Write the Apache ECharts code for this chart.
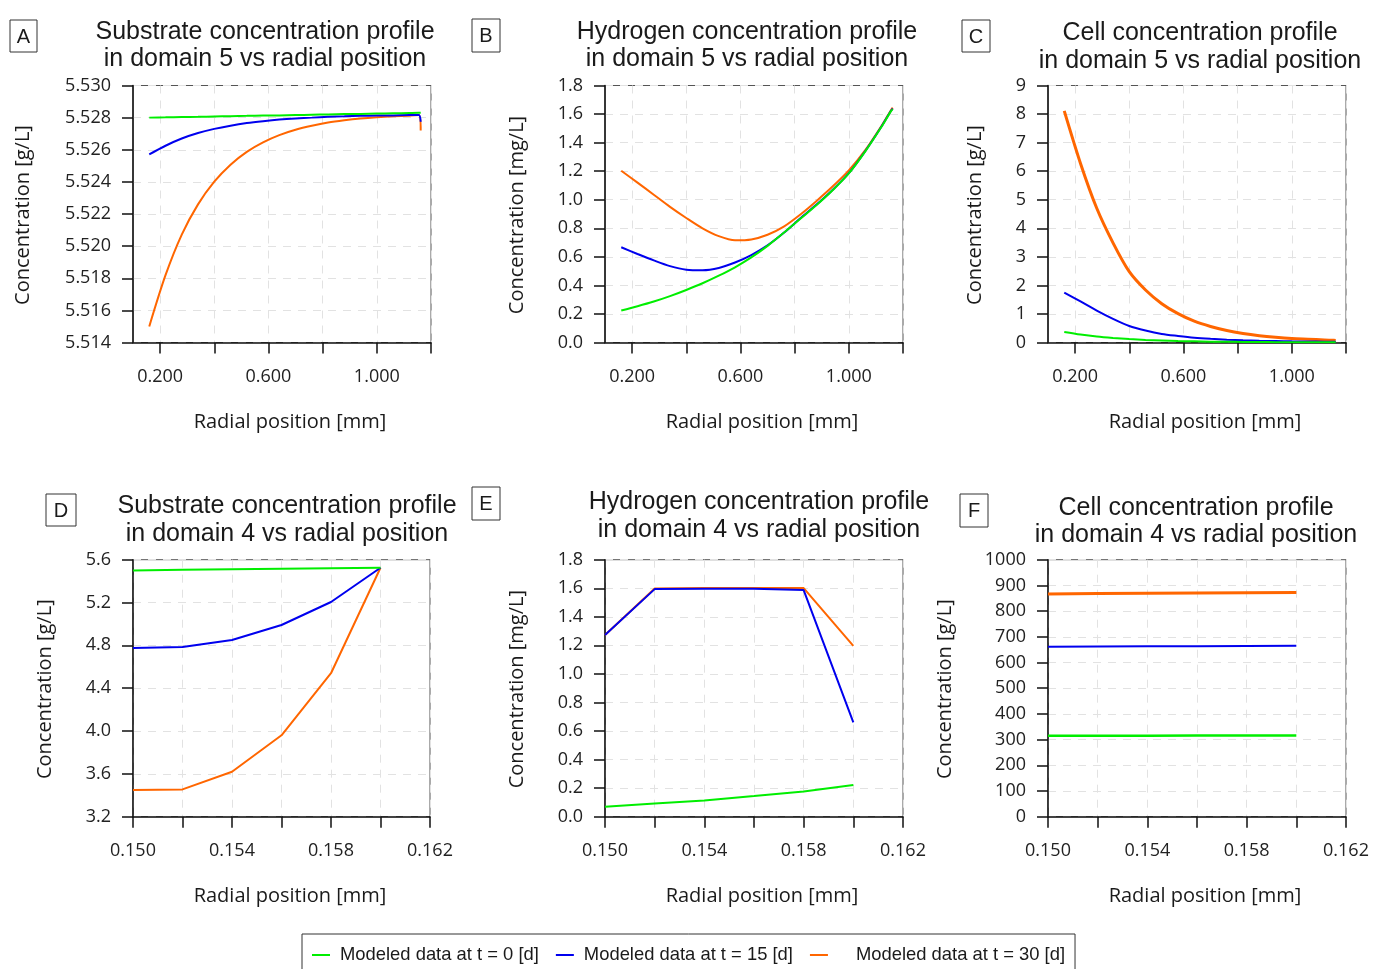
<!DOCTYPE html>
<html>
<head>
<meta charset="utf-8">
<title>Concentration profiles</title>
<script src="https://cdn.jsdelivr.net/npm/echarts@6/dist/echarts.min.js"></script>
<style>
  html, body { margin: 0; padding: 0; background: #fff; }
  #chart { width: 1373px; height: 969px; }
</style>
</head>
<body>
<div id="chart"></div>
<script>
  // radial positions [mm]
  const xDomain5 = [0.16, 0.22, 0.28, 0.34, 0.40, 0.46, 0.52, 0.58, 0.64, 0.70, 0.76, 0.82, 0.88, 0.94, 1.00, 1.06, 1.12, 1.155, 1.162]
  const xDomain4 = [0.150, 0.152, 0.154, 0.156, 0.158, 0.160]

  // axis ticks / labels
  const xTicks5 = [0.2, 0.4, 0.6, 0.8, 1.0, 1.2]
  const xLabels5 = [0.2, 0.6, 1.0]
  const xTicks4 = [0.150, 0.152, 0.154, 0.156, 0.158, 0.160, 0.162]
  const xLabels4 = [0.150, 0.154, 0.158, 0.162]

  const seriesNames = ['Modeled data at t = 0 [d]', 'Modeled data at t = 15 [d]', 'Modeled data at t = 30 [d]']

  // A - substrate, domain 5 [g/L]
  const subD5T0 = [5.52800, 5.52802, 5.52804, 5.52805, 5.52807, 5.52809, 5.52811, 5.52813, 5.52814, 5.52816,
    5.52818, 5.52820, 5.52822, 5.52823, 5.52825, 5.52827, 5.52829, 5.52830, 5.52830]
  const subD5T15 = [5.52571, 5.52625, 5.52670, 5.52704, 5.52730, 5.52750, 5.52766, 5.52778, 5.52788, 5.52795,
    5.52800, 5.52805, 5.52808, 5.52811, 5.52813, 5.52814, 5.52816, 5.52816, 5.52774]
  const subD5T30 = [5.51500, 5.51819, 5.52072, 5.52260, 5.52401, 5.52507, 5.52587, 5.52646, 5.52691, 5.52724,
    5.52749, 5.52769, 5.52783, 5.52794, 5.52802, 5.52808, 5.52812, 5.52816, 5.52720]
  // B - hydrogen, domain 5 [mg/L]
  const h2D5T0 = [0.224, 0.254, 0.287, 0.325, 0.368, 0.415, 0.468, 0.527, 0.596, 0.677,
    0.768, 0.865, 0.961, 1.066, 1.184, 1.337, 1.509, 1.619, 1.635]
  const h2D5T15 = [0.667, 0.620, 0.575, 0.535, 0.510, 0.506, 0.522, 0.560, 0.612, 0.680,
    0.768, 0.868, 0.964, 1.068, 1.186, 1.339, 1.511, 1.621, 1.638]
  const h2D5T30 = [1.203, 1.120, 1.035, 0.950, 0.872, 0.800, 0.745, 0.716, 0.722, 0.755,
    0.812, 0.895, 0.990, 1.092, 1.205, 1.345, 1.515, 1.625, 1.645]
  // C - cells, domain 5 [g/L]
  const cellD5T0 = [0.37, 0.28, 0.21, 0.16, 0.12, 0.09, 0.07, 0.05, 0.04, 0.03,
    0.025, 0.02, 0.015, 0.012, 0.01, 0.01, 0.01, 0.01, 0.01]
  const cellD5T15 = [1.75, 1.44, 1.12, 0.83, 0.58, 0.42, 0.30, 0.23, 0.17, 0.13,
    0.10, 0.075, 0.06, 0.05, 0.04, 0.035, 0.03, 0.03, 0.03]
  const cellD5T30 = [8.11, 6.27, 4.70, 3.49, 2.48, 1.84, 1.36, 1.01, 0.745, 0.56,
    0.42, 0.317, 0.24, 0.183, 0.14, 0.115, 0.09, 0.075, 0.07]
  // D - substrate, domain 4 [g/L]
  const subD4T0 = [5.500, 5.505, 5.510, 5.515, 5.520, 5.525]
  const subD4T15 = [4.775, 4.785, 4.85, 4.99, 5.205, 5.525]
  const subD4T30 = [3.45, 3.455, 3.62, 3.96, 4.54, 5.525]
  // E - hydrogen, domain 4 [mg/L]
  const h2D4T0 = [0.070, 0.093, 0.114, 0.145, 0.177, 0.222]
  const h2D4T15 = [1.272, 1.594, 1.596, 1.596, 1.587, 0.660]
  const h2D4T30 = [1.272, 1.599, 1.601, 1.601, 1.601, 1.197]
  // F - cells, domain 4 [g/L]
  const cellD4T0 = [315, 315, 315, 316, 316, 316]
  const cellD4T15 = [661, 662, 663, 663, 664, 665]
  const cellD4T30 = [867, 868, 869, 870, 871, 872]

  const colors = ['#00ee00', '#0000ee', '#ff6600']
  const font = 'Open Sans'
  const titleFont = 'Liberation Sans'

  // panel layout
  const panels = [
    { letter: 'A', title: ['Substrate concentration profile', 'in domain 5 vs radial position'], yName: 'Concentration [g/L]',
      grid: { left: 133, top: 85.5, width: 298, height: 257 }, box: [10, 20, 27, 32], titleX: 265, titleY: [32, 59], yNameX: 23,
      x: xDomain5, ys: [subD5T0, subD5T15, subD5T30], yMin: 5.514, yMax: 5.530, yStep: 0.002, digits: 3, smooth: true, widths: [2, 2, 2] },
    { letter: 'B', title: ['Hydrogen concentration profile', 'in domain 5 vs radial position'], yName: 'Concentration [mg/L]',
      grid: { left: 605, top: 85.5, width: 298, height: 257 }, box: [472, 19, 28, 33], titleX: 747, titleY: [32, 59], yNameX: 517,
      x: xDomain5, ys: [h2D5T0, h2D5T15, h2D5T30], yMin: 0, yMax: 1.8, yStep: 0.2, digits: 1, smooth: true, widths: [2, 2, 2] },
    { letter: 'C', title: ['Cell concentration profile', 'in domain 5 vs radial position'], yName: 'Concentration [g/L]',
      grid: { left: 1048, top: 85.5, width: 298, height: 257 }, box: [962, 20, 28, 32], titleX: 1200, titleY: [33, 61], yNameX: 975,
      x: xDomain5, ys: [cellD5T0, cellD5T15, cellD5T30], yMin: 0, yMax: 9, yStep: 1, digits: 0, smooth: true, widths: [2, 2, 3] },
    { letter: 'D', title: ['Substrate concentration profile', 'in domain 4 vs radial position'], yName: 'Concentration [g/L]',
      grid: { left: 133, top: 559.7, width: 297, height: 257 }, box: [46, 494, 30, 32], titleX: 287, titleY: [506, 534], yNameX: 45,
      x: xDomain4, ys: [subD4T0, subD4T15, subD4T30], yMin: 3.2, yMax: 5.6, yStep: 0.4, digits: 1, smooth: false, widths: [2, 2, 2] },
    { letter: 'E', title: ['Hydrogen concentration profile', 'in domain 4 vs radial position'], yName: 'Concentration [mg/L]',
      grid: { left: 605, top: 559.7, width: 298, height: 257 }, box: [472, 487, 28, 33], titleX: 759, titleY: [502, 530], yNameX: 517,
      x: xDomain4, ys: [h2D4T0, h2D4T15, h2D4T30], yMin: 0, yMax: 1.8, yStep: 0.2, digits: 1, smooth: false, widths: [2, 2, 2] },
    { letter: 'F', title: ['Cell concentration profile', 'in domain 4 vs radial position'], yName: 'Concentration [g/L]',
      grid: { left: 1048, top: 559.7, width: 298, height: 257 }, box: [960, 494, 28, 33], titleX: 1196, titleY: [508, 535], yNameX: 945,
      x: xDomain4, ys: [cellD4T0, cellD4T15, cellD4T30], yMin: 0, yMax: 1000, yStep: 100, digits: 0, smooth: false, widths: [2.5, 2, 3] }
  ]

  const axisLineStyle = { color: '#111', width: 1.5 }
  const splitLineStyle = { color: '#e2e2e2', type: [8, 7], width: 1 }
  const labelStyle = { fontFamily: font, fontSize: 18, color: '#222' }

  const grids = []
  const xAxes = []
  const yAxes = []
  const series = []
  const graphics = []

  panels.forEach((p, i) => {
    const row5 = p.x === xDomain5
    grids.push(Object.assign({ show: false, outerBoundsMode: 'none', containLabel: false }, p.grid))

    xAxes.push({
      gridIndex: i,
      type: 'value',
      min: row5 ? 0.1 : 0.150,
      max: row5 ? 1.2 : 0.162,
      axisLine: { show: true, onZero: false, lineStyle: axisLineStyle },
      axisTick: { show: true, length: 11, customValues: row5 ? xTicks5 : xTicks4, lineStyle: axisLineStyle },
      axisLabel: Object.assign({ customValues: row5 ? xLabels5 : xLabels4, margin: 25, formatter: v => Number(v).toFixed(3) }, labelStyle),
      splitLine: { show: true, lineStyle: splitLineStyle },
      z: 4
    })

    yAxes.push({
      gridIndex: i,
      type: 'value',
      min: p.yMin,
      max: p.yMax,
      interval: p.yStep,
      axisLine: { show: true, onZero: false, lineStyle: axisLineStyle },
      axisTick: { show: true, length: 11, lineStyle: axisLineStyle },
      axisLabel: Object.assign({ margin: 22, formatter: v => Number(v).toFixed(p.digits) }, labelStyle),
      splitLine: { show: true, lineStyle: splitLineStyle },
      z: 4
    })

    // draw orange first, green on top
    ;[2, 1, 0].forEach(k => {
      series.push({
        name: seriesNames[k],
        type: 'line',
        xAxisIndex: i,
        yAxisIndex: i,
        data: p.x.map((xv, j) => [xv, p.ys[k][j]]),
        symbol: 'none',
        smooth: p.smooth ? 0.3 : false,
        color: colors[k],
        lineStyle: { color: colors[k], width: p.widths[k] },
        emphasis: { disabled: true },
        z: 5 + (2 - k)
      })
    })

    // plot frame (top / right edges)
    graphics.push({
      type: 'rect',
      z: 3,
      shape: { x: p.grid.left, y: p.grid.top, width: p.grid.width, height: p.grid.height },
      style: { fill: null, stroke: '#555', lineWidth: 1 }
    })
    // letter box
    graphics.push({
      type: 'rect',
      shape: { x: p.box[0], y: p.box[1], width: p.box[2], height: p.box[3] },
      style: { fill: '#fff', stroke: '#333', lineWidth: 1 }
    })
    graphics.push({
      type: 'text',
      x: p.box[0] + p.box[2] / 2,
      y: p.box[1] + p.box[3] / 2 + 1,
      style: { text: p.letter, fontFamily: titleFont, fontSize: 20, fill: '#1a1a1a', align: 'center', verticalAlign: 'middle' }
    })
    // title lines
    p.title.forEach((t, j) => {
      graphics.push({
        type: 'text',
        x: p.titleX,
        y: p.titleY[j],
        style: { text: t, fontFamily: titleFont, fontSize: 25, fill: '#1a1a1a', align: 'center', verticalAlign: 'middle' }
      })
    })
    // axis names
    const cy = p.grid.top + p.grid.height / 2 + 1
    graphics.push({
      type: 'text',
      x: p.yNameX,
      y: cy,
      rotation: Math.PI / 2,
      style: { text: p.yName, fontFamily: font, fontSize: 20, fill: '#1a1a1a', align: 'center', verticalAlign: 'middle' }
    })
    graphics.push({
      type: 'text',
      x: p.grid.left + 157,
      y: p.grid.top + p.grid.height + 80,
      style: { text: 'Radial position [mm]', fontFamily: font, fontSize: 20, fill: '#1a1a1a', align: 'center', verticalAlign: 'middle' }
    })
  })

  const legendText = { fontFamily: titleFont, fontSize: 18.4, color: '#1a1a1a', padding: [0, 0, 0, 5] }

  const chart = echarts.init(document.getElementById('chart'))
  chart.setOption({
    animation: false,
    backgroundColor: '#fff',
    grid: grids,
    xAxis: xAxes,
    yAxis: yAxes,
    series: series,
    legend: {
      left: 302,
      top: 934,
      icon: 'rect',
      itemWidth: 18,
      itemHeight: 2,
      itemGap: 17,
      padding: [12, 10, 10, 10],
      borderColor: '#333',
      borderWidth: 1,
      selectedMode: false,
      textStyle: legendText,
      data: [
        { name: seriesNames[0] },
        { name: seriesNames[1] },
        { name: seriesNames[2], textStyle: Object.assign({}, legendText, { padding: [0, 0, 0, 23] }) }
      ]
    },
    graphic: graphics
  })
</script>
</body>
</html>
